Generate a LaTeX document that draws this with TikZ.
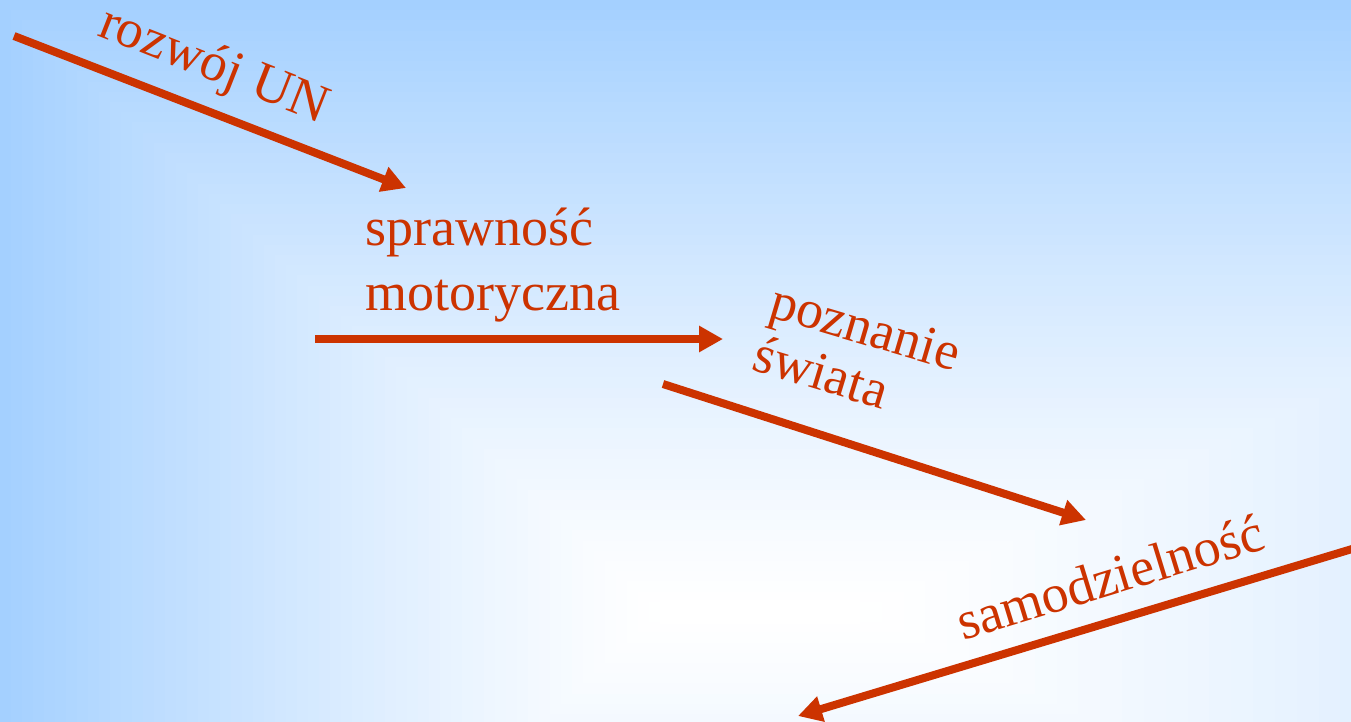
\documentclass[tikz,border=0pt]{standalone}
\usepackage{fontspec}
\setmainfont{Liberation Serif}
\usetikzlibrary{arrows.meta}
\definecolor{bgblue}{RGB}{164,208,255}
\definecolor{arrred}{RGB}{204,51,0}
\begin{document}
\begin{tikzpicture}[x=1pt,y=-1pt,
  lab/.style={text=arrred, font=\fontsize{54}{65}\selectfont, inner sep=0pt, anchor=base west},
  arr/.style={draw=arrred, line width=8pt, -{Triangle[length=24pt,width=25pt]}}]
\useasboundingbox (0,0) rectangle (1351,721);
\clip (0,0) rectangle (1351,721);
% background: rectangular gradient, light blue at the edges to white near the bottom centre
\foreach \i in {60,59,...,1}{
  \pgfmathsetmacro\t{\i/60}
  \pgfmathsetmacro\p{100*(\t^1.25)}
  \fill[bgblue!\p!white] ({660-\t*660},{612-\t*612}) rectangle ({860+\t*1310},{612+\t*612});
}
\fill[white] (660,600) rectangle (860,624);
% labels
\node[lab, rotate=-21.5] (un) at (96,35) {rozwój UN};
\node[lab] (spr) at (365,245) {sprawność};
\node[lab] (mot) at (365,310) {motoryczna};
\node[lab, rotate=-16.5] (poz) at (767,316) {poznanie};
\node[lab, rotate=-17] (swi) at (750,369) {świata};
\node[lab, rotate=17] (sam) at (963,641) {samodzielność};
% arrow end points
\coordinate (a1s) at (14,36);
\coordinate (a1e) at (406,188);
\coordinate (a2s) at (315,339);
\coordinate (a2e) at (723,339);
\coordinate (a3s) at (663,384);
\coordinate (a3e) at (1086,520);
\coordinate (a4s) at (1362,546);
\coordinate (a4e) at (798,716);
\draw[arr] (a1s) -- (a1e);
\draw[arr] (a2s) -- (a2e);
\draw[arr] (a3s) -- (a3e);
\draw[arr] (a4s) -- (a4e);
\end{tikzpicture}
\end{document}
